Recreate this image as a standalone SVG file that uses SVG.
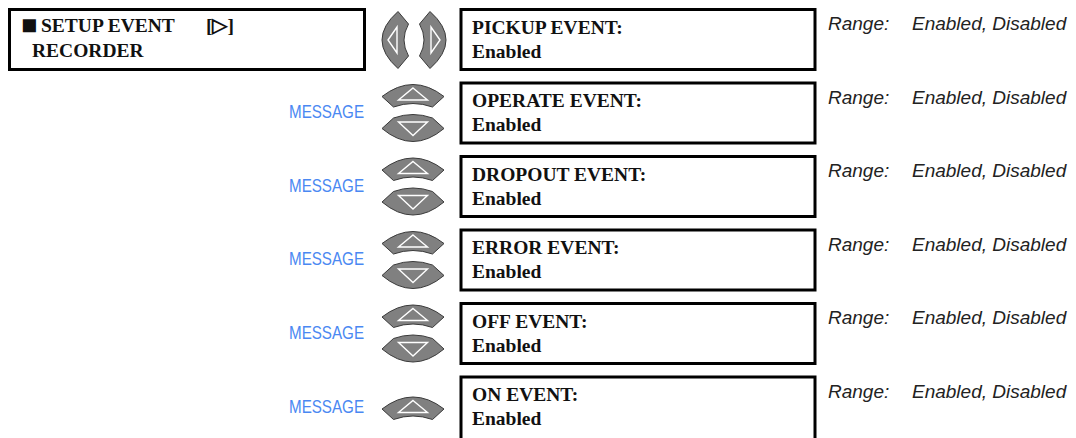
<svg xmlns="http://www.w3.org/2000/svg" xmlns:xlink="http://www.w3.org/1999/xlink" width="1076" height="438" viewBox="0 0 1076 438">
<style>
.box{fill:#fff;stroke:#000;stroke-width:3}
.t{font-family:"Liberation Serif","Times New Roman",serif;font-weight:bold;font-size:19.5px;fill:#111}
.sq{font-family:"Liberation Serif","Times New Roman",serif;font-size:27px;fill:#111}
.rng{font-family:"Liberation Sans",Arial,sans-serif;font-style:italic;font-size:19px;fill:#222}
.msg{font-family:"Liberation Sans",Arial,sans-serif;font-size:19px;fill:#4a88f2}
.btn{fill:#808080;stroke:#3a3a3a;stroke-width:1}
.tri{fill:none;stroke:#fff;stroke-width:1.4;stroke-linejoin:miter}
</style>
<defs>
<g id="up">
<path class="btn" d="M-31,15 Q0,-9 31,15 L19.5,25.5 Q0,18.5 -19.5,25.5 Z"/>
<path class="tri" d="M0,6.5 L14.5,18.5 L-14.5,18.5 Z"/>
</g>
<g id="down">
<path class="btn" d="M-19.5,36.5 Q0,29.5 19.5,36.5 L31,47 Q0,73 -31,47 Z"/>
<path class="tri" d="M-14.5,40.5 L14.5,40.5 L0,54 Z"/>
</g>
</defs>
<rect width="1076" height="438" fill="#fff"/>
<g id="connectors"/>
<g id="header">
<rect class="box" x="9.5" y="9.5" width="355" height="60"/>
<text class="sq" x="21" y="34">■</text>
<text class="t" x="41" y="32">SETUP EVENT</text>
<text class="t" x="206" y="32">[▷]</text>
<text class="t" x="32" y="57">RECORDER</text>
</g>
<g id="lr-buttons">
<path class="btn" d="M398,11.5 L408.5,24 Q399.5,40 408.5,56 L398,68.5 Q366,40 398,11.5 Z"/>
<path class="tri" d="M388,40 L397,27 L397,53 Z"/>
<path class="btn" d="M430,11.5 L419.5,24 Q428.5,40 419.5,56 L430,68.5 Q462,40 430,11.5 Z"/>
<path class="tri" d="M440,40 L431,27 L431,53 Z"/>
</g>
<g id="pickup">
<rect class="box" x="461" y="9.5" width="354" height="60"/>
<text class="t" x="472" y="33.5">PICKUP EVENT:</text>
<text class="t" x="472" y="57.5">Enabled</text>
<text class="rng" x="828" y="30">Range:</text>
<text class="rng" x="912" y="30">Enabled, Disabled</text>
</g>
<g id="operate">
<use href="#up" xlink:href="#up" transform="translate(413,81.5)"/>
<use href="#down" xlink:href="#down" transform="translate(413,81.5)"/>
<text class="msg" x="289" y="118" textLength="75" lengthAdjust="spacingAndGlyphs">MESSAGE</text>
<rect class="box" x="461" y="83" width="354" height="60"/>
<text class="t" x="472" y="107">OPERATE EVENT:</text>
<text class="t" x="472" y="131">Enabled</text>
<text class="rng" x="828" y="103.5">Range:</text>
<text class="rng" x="912" y="103.5">Enabled, Disabled</text>
</g>
<g id="dropout">
<use href="#up" xlink:href="#up" transform="translate(413,155)"/>
<use href="#down" xlink:href="#down" transform="translate(413,155)"/>
<text class="msg" x="289" y="191.5" textLength="75" lengthAdjust="spacingAndGlyphs">MESSAGE</text>
<rect class="box" x="461" y="156.5" width="354" height="60"/>
<text class="t" x="472" y="180.5">DROPOUT EVENT:</text>
<text class="t" x="472" y="204.5">Enabled</text>
<text class="rng" x="828" y="177">Range:</text>
<text class="rng" x="912" y="177">Enabled, Disabled</text>
</g>
<g id="error">
<use href="#up" xlink:href="#up" transform="translate(413,228.5)"/>
<use href="#down" xlink:href="#down" transform="translate(413,228.5)"/>
<text class="msg" x="289" y="265" textLength="75" lengthAdjust="spacingAndGlyphs">MESSAGE</text>
<rect class="box" x="461" y="230" width="354" height="60"/>
<text class="t" x="472" y="254">ERROR EVENT:</text>
<text class="t" x="472" y="278">Enabled</text>
<text class="rng" x="828" y="250.5">Range:</text>
<text class="rng" x="912" y="250.5">Enabled, Disabled</text>
</g>
<g id="off">
<use href="#up" xlink:href="#up" transform="translate(413,302)"/>
<use href="#down" xlink:href="#down" transform="translate(413,302)"/>
<text class="msg" x="289" y="338.5" textLength="75" lengthAdjust="spacingAndGlyphs">MESSAGE</text>
<rect class="box" x="461" y="303.5" width="354" height="60"/>
<text class="t" x="472" y="327.5">OFF EVENT:</text>
<text class="t" x="472" y="351.5">Enabled</text>
<text class="rng" x="828" y="324">Range:</text>
<text class="rng" x="912" y="324">Enabled, Disabled</text>
</g>
<g id="on">
<use href="#up" xlink:href="#up" transform="translate(413,394)"/>
<text class="msg" x="289" y="412.5" textLength="75" lengthAdjust="spacingAndGlyphs">MESSAGE</text>
<rect class="box" x="461" y="377" width="354" height="70"/>
<text class="t" x="472" y="401">ON EVENT:</text>
<text class="t" x="472" y="425">Enabled</text>
<text class="rng" x="828" y="397.5">Range:</text>
<text class="rng" x="912" y="397.5">Enabled, Disabled</text>
</g>
</svg>
